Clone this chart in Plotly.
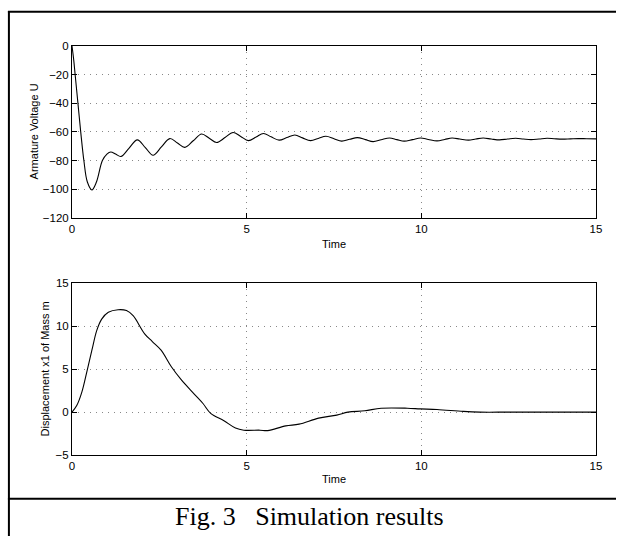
import plotly.graph_objects as go

# ---- data ----
time_u = [0, 0.05, 0.09, 0.17, 0.25, 0.34, 0.44, 0.57, 0.70, 0.87, 1.0, 1.11, 1.25, 1.40,
          1.63, 1.87, 2.10, 2.32, 2.56, 2.80, 3.02, 3.23, 3.47, 3.71, 3.93, 4.14, 4.38,
          4.61, 4.83, 5.05, 5.27, 5.48, 5.70, 5.93, 6.15, 6.38, 6.60, 6.83, 7.05, 7.27,
          7.50, 7.72, 7.95, 8.17, 8.40, 8.62, 8.85, 9.09, 9.30, 9.51, 9.75, 9.98, 10.2,
          10.45, 10.67, 10.88, 11.1, 11.35, 11.56, 11.77, 12.0, 12.24, 12.47, 12.7, 12.92,
          13.14, 13.37, 13.6, 13.8, 14.03, 14.27, 14.5, 14.73, 15.0]
voltage_u = [0, -10, -20, -40, -60, -80, -95, -100.5, -95, -80, -75.5, -74, -75.5, -77.2,
             -71.5, -65.6, -71, -76.3, -70.5, -64.7, -67.8, -70.8, -66.2, -61.5, -64.5, -67.4, -64,
             -60.4, -63.2, -66.1, -63.6, -61.1, -63.5, -65.8, -64, -62.2, -64.2, -66.1, -64.6, -63.1,
             -64.8, -66.5, -65.2, -64.0, -65.4, -66.8, -65.5, -64.3, -65.4, -66.5, -65.4, -64.3, -65.3,
             -66.3, -65.3, -64.3, -65, -65.8, -65, -64.3, -65, -65.6, -65, -64.5, -65,
             -65.4, -65, -64.5, -64.8, -65.1, -64.9, -64.7, -64.8, -64.9]

time_x = [0, 0.14, 0.28, 0.42, 0.57, 0.71, 0.85, 1.04, 1.32, 1.56, 1.75, 2.08, 2.3, 2.55,
          2.84, 3.12, 3.5, 3.75, 3.97, 4.35, 4.68, 4.92, 5.38, 5.6, 6.12, 6.5, 7.06, 7.58,
          7.9, 8.38, 8.85, 9.6, 9.97, 10.45, 11.2, 11.67, 12.5, 13.5, 14.5, 15]
disp_x1 = [0, 0.8, 2.3, 4.6, 7.2, 9.5, 10.8, 11.6, 11.9, 11.8, 11.2, 9.1, 8.2, 7.2,
           5.3, 3.8, 2.1, 1.0, -0.15, -1.0, -1.85, -2.1, -2.1, -2.15, -1.6, -1.4, -0.7, -0.35,
           0, 0.15, 0.45, 0.45, 0.37, 0.3, 0.08, 0, 0, 0, 0, 0]

x_ticks = [0, 5, 10, 15]
u_ticks = [-120, -100, -80, -60, -40, -20, 0]
x1_ticks = [-5, 0, 5, 10, 15]

title_top = "Armature Voltage U"
title_bottom = "Displacement x1 of Mass m"
x_title = "Time"
caption = "Fig.\u00a03\u00a0\u00a0\u00a0Simulation results"

W, H = 622, 542
SANS = "Liberation Sans, Arial, sans-serif"

fig = go.Figure()
fig.add_trace(go.Scatter(x=time_u, y=voltage_u, mode="lines",
                         line=dict(color="black", width=1.1, shape="spline", smoothing=1),
                         xaxis="x", yaxis="y", showlegend=False, hoverinfo="skip"))
fig.add_trace(go.Scatter(x=time_x, y=disp_x1, mode="lines",
                         line=dict(color="black", width=1.1, shape="spline", smoothing=1),
                         xaxis="x2", yaxis="y2", showlegend=False, hoverinfo="skip"))

def px_x(p):
    return p / W

def px_y(p):
    return (H - p) / H

xdom = [px_x(70), px_x(601.7)]
common_axis = dict(showline=True, linecolor="black", linewidth=1, mirror="ticks",
                   ticks="inside", ticklen=5, tickcolor="black", tickwidth=1,
                   showgrid=True, gridcolor="#888888", gridwidth=1, griddash="1px,5px",
                   zeroline=False, tickfont=dict(family=SANS, size=11.5, color="black"))

fig.update_layout(
    width=W, height=H, margin=dict(l=0, r=0, t=0, b=0),
    paper_bgcolor="white", plot_bgcolor="white",
    xaxis=dict(domain=xdom, range=[0, 15], tickvals=x_ticks, anchor="y", **common_axis),
    yaxis=dict(domain=[px_y(216.7), px_y(40.7)], range=[-120, 0], tickvals=u_ticks,
               anchor="x", **common_axis),
    xaxis2=dict(domain=xdom, range=[0, 15], tickvals=x_ticks, anchor="y2", **common_axis),
    yaxis2=dict(domain=[px_y(459.3), px_y(283.3)], range=[-5, 15], tickvals=x1_ticks,
                anchor="x2", **common_axis),
)

ann_font = dict(family=SANS, size=11, color="black")
fig.add_annotation(text=title_top, x=px_x(31), y=px_y(128.7), xref="paper", yref="paper",
                   textangle=-90, showarrow=False, font=ann_font, xanchor="center", yanchor="middle")
fig.add_annotation(text=title_bottom, x=px_x(43), y=px_y(371.3), xref="paper", yref="paper",
                   textangle=-90, showarrow=False, font=ann_font, xanchor="center", yanchor="middle")
fig.add_annotation(text=x_title, x=px_x(336), y=px_y(243), xref="paper", yref="paper",
                   showarrow=False, font=ann_font, xanchor="center", yanchor="middle")
fig.add_annotation(text=x_title, x=px_x(336), y=px_y(484), xref="paper", yref="paper",
                   showarrow=False, font=ann_font, xanchor="center", yanchor="middle")
fig.add_annotation(text=caption, x=px_x(311), y=px_y(522), xref="paper", yref="paper",
                   showarrow=False, xanchor="center", yanchor="middle",
                   font=dict(family="Liberation Serif, Times New Roman, serif", size=26, color="black"))

# outer frame lines
frame = dict(color="black", width=2)
fig.add_shape(type="line", xref="paper", yref="paper", x0=px_x(6), x1=px_x(6), y0=0, y1=px_y(5), line=frame)
fig.add_shape(type="line", xref="paper", yref="paper", x0=px_x(5), x1=1, y0=px_y(6), y1=px_y(6), line=frame)
fig.add_shape(type="line", xref="paper", yref="paper", x0=px_x(5), x1=1, y0=px_y(504), y1=px_y(504), line=frame)

fig.write_html("out.html", config={"displayModeBar": False},
               post_script="document.body.style.margin='0';document.body.style.overflow='hidden';")
